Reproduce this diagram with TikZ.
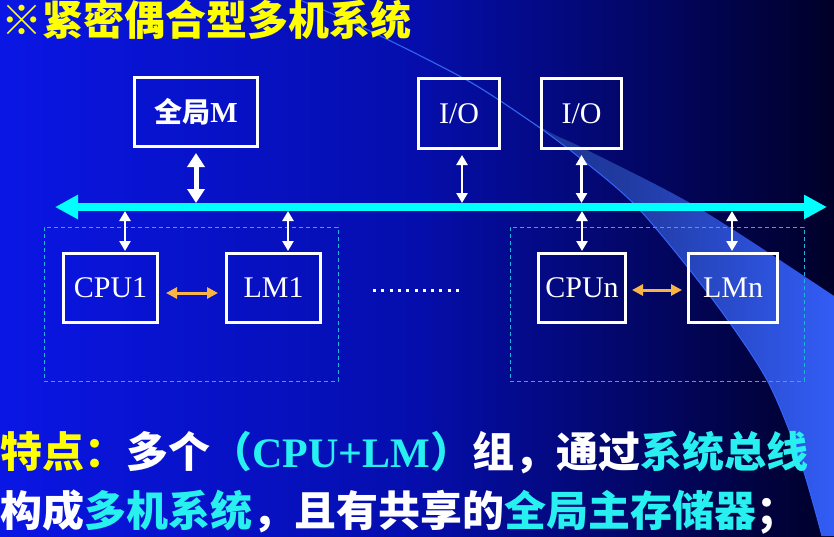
\documentclass[tikz,border=0pt]{standalone}
\usepackage{fontspec}
\setmainfont{Liberation Serif}
\newfontfamily\cjk{Noto Sans CJK SC}
\usetikzlibrary{arrows.meta}
\definecolor{bgL}{RGB}{10,22,228}
\definecolor{bgM}{RGB}{5,14,172}
\definecolor{bgR}{RGB}{0,0,40}
\definecolor{swA}{RGB}{20,36,120}
\definecolor{swM}{RGB}{32,58,160}
\definecolor{swB}{RGB}{50,92,245}
\definecolor{swL}{RGB}{50,100,255}
\definecolor{ty}{RGB}{255,255,0}
\definecolor{tc}{RGB}{40,240,240}
\definecolor{buscol}{RGB}{0,255,255}
\definecolor{dashcol}{RGB}{30,180,220}
\definecolor{orng}{RGB}{250,180,70}
\pgfdeclarehorizontalshading{bgshade}{100bp}{color(0bp)=(bgL); color(25bp)=(bgL); color(50bp)=(bgM); color(75bp)=(bgR); color(100bp)=(bgR)}
\pgfdeclarehorizontalshading{swshade}{100bp}{color(0bp)=(swA); color(25bp)=(swA); color(55bp)=(swM); color(75bp)=(swB); color(100bp)=(swB)}
\begin{document}
\begin{tikzpicture}[x=1pt,y=-1pt,
  box/.style={draw=white, line width=3pt, inner sep=0pt, minimum height=69pt, text=white,
    font=\fontsize{30}{34}\selectfont},
  grp/.style={draw=dashcol, line width=1pt, dash pattern=on 4pt off 3pt, minimum width=294pt, minimum height=154pt, inner sep=0pt},
  wa/.style={draw=white, line width=2.5pt, {Triangle[width=11pt,length=10pt]}-{Triangle[width=11pt,length=10pt]}},
  wbig/.style={draw=white, line width=5pt, {Triangle[width=17pt,length=14pt]}-{Triangle[width=17pt,length=14pt]}},
  oa/.style={draw=orng, line width=3pt, {Triangle[width=11pt,length=11pt]}-{Triangle[width=11pt,length=11pt]}},
  busline/.style={draw=buscol, line width=8pt, {Triangle[width=23pt,length=23pt]}-{Triangle[width=23pt,length=23pt]}},
  txt/.style={anchor=base west, inner sep=0pt, font=\cjk\bfseries\fontsize{42}{42}\selectfont}
]
\useasboundingbox (0,0) rectangle (834,536);
\shade[shading=bgshade] (0,0) rectangle (834,536);
% swoosh
\shade[shading=swshade] plot[smooth] coordinates {(300,0) (370,31) (470,82) (543,130) (570,150) (637,207) (713,300) (767,380) (800,460) (822,536)}
  -- (834,536) -- (834,296) -- plot[smooth] coordinates {(834,296) (697,207) (585,149) (543,128.5) (470,81) (370,30) (301,0)} -- cycle;
\draw[draw=swL, line width=1pt] plot[smooth] coordinates {(300,0) (370,31) (470,82) (543,130) (570,150) (637,207) (713,300) (767,380) (800,460) (822,536)};

% title
\node[anchor=base west, inner sep=0pt, text=ty, font=\cjk\bfseries\fontsize{41}{41}\selectfont] (title) at (1,35) {※紧密偶合型多机系统};

% groups
\node[grp] (g1) at (191,304) {};
\node[grp] (g2) at (657,304) {};

% boxes
\node[box, minimum width=123pt] (gm) at (196,112) {{\cjk\bfseries\fontsize{28}{30}\selectfont 全局}{\bfseries\fontsize{29}{30}\selectfont M}};
\node[box, minimum width=81pt, minimum height=70pt] (io1) at (459,113.5) {I/O};
\node[box, minimum width=80pt, minimum height=70pt] (io2) at (581.5,113.5) {I/O};
\node[box, minimum width=94pt] (cpu1) at (110.5,288) {CPU1};
\node[box, minimum width=94pt] (lm1) at (273.5,288) {LM1};
\node[box, minimum width=87pt] (cpun) at (582,288) {CPUn};
\node[box, minimum width=89pt] (lmn) at (733,288) {LMn};

% bus
\coordinate (busL) at (55,207);
\coordinate (busR) at (827,207);
\coordinate (busT) at (0,203);
\coordinate (busB) at (0,211);
\draw[busline] (busL) -- (busR);

% vertical arrows
\draw[wbig] ([yshift=-5pt]gm.south) -- (gm.south |- busT);
\draw[wa] ([xshift=3pt,yshift=-5pt]io1.south) -- ([xshift=3pt]io1.south |- busT);
\draw[wa] ([yshift=-5pt]io2.south) -- (io2.south |- busT);
\draw[wa] ([xshift=14.5pt,yshift=1pt]cpu1.north) -- ([xshift=14.5pt]cpu1.north |- busB);
\draw[wa] ([xshift=14.5pt,yshift=1pt]lm1.north) -- ([xshift=14.5pt]lm1.north |- busB);
\draw[wa] ([yshift=1pt]cpun.north) -- (cpun.north |- busB);
\draw[wa] ([xshift=-1pt,yshift=1pt]lmn.north) -- ([xshift=-1pt]lmn.north |- busB);

% orange arrows
\draw[oa] ([xshift=7pt,yshift=-5pt]cpu1.east) -- ([xshift=-7pt,yshift=-5pt]lm1.west);
\draw[oa] ([xshift=5pt,yshift=-2pt]cpun.east) -- ([xshift=-5pt,yshift=-2pt]lmn.west);

% dots
\coordinate (d1) at (373,290);
\coordinate (d2) at (460,290);
\draw[white, line width=3pt, dash pattern=on 3pt off 5.3pt] (d1) -- (d2);

% bottom text
\node[txt] (l1) at (0,467) {\textcolor{ty}{特点：}\textcolor{white}{多个}\textcolor{tc}{（{\rmfamily\bfseries CPU+LM}）}\textcolor{white}{组，通过}\textcolor{tc}{系统总线}};
\node[txt] (l2) at (0,526) {\textcolor{white}{构成}\textcolor{tc}{多机系统}\textcolor{white}{，且有共享的}\textcolor{tc}{全局主存储器}\textcolor{white}{；}};
\end{tikzpicture}
\end{document}
